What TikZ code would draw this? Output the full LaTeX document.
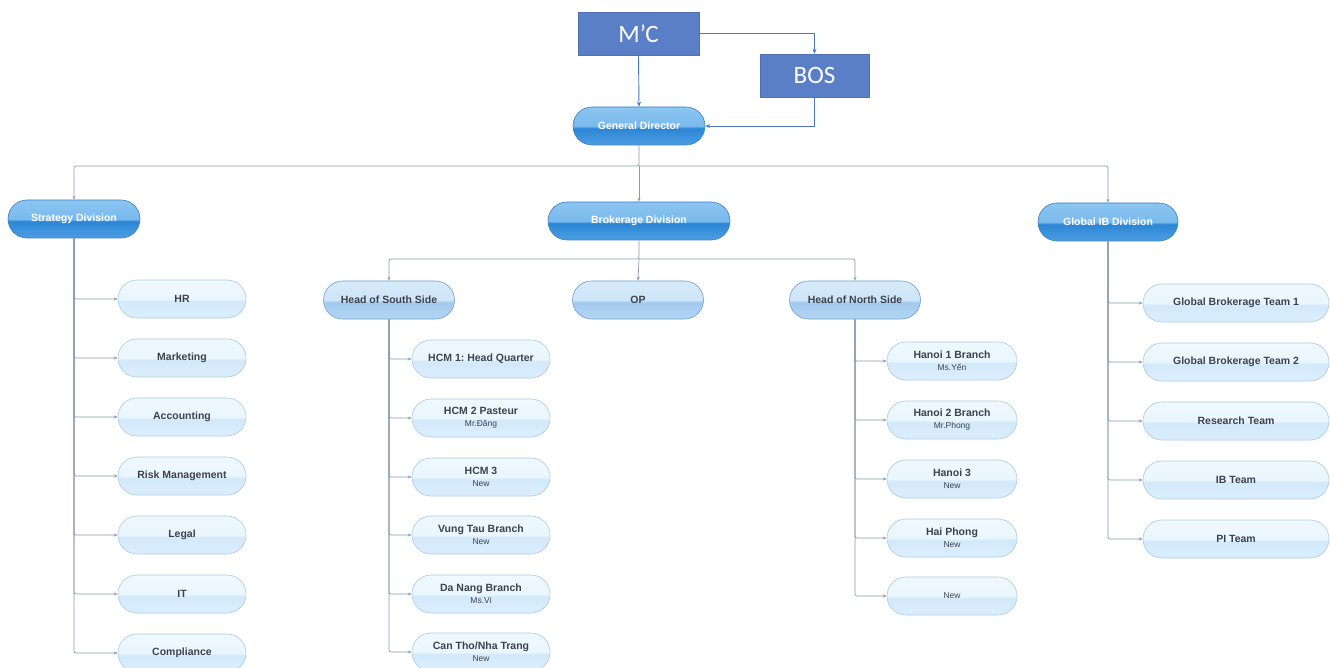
\documentclass[tikz,border=0pt]{standalone}
\usepackage{fontspec}
\setmainfont{Liberation Sans}
\newfontfamily\boardfont{Carlito}
\usetikzlibrary{shapes.misc}
\usetikzlibrary{arrows.meta}
\frenchspacing
\definecolor{boardblue}{HTML}{5A7FC6}
\definecolor{ctrlblue}{HTML}{4D74BF}
\definecolor{linkgray}{HTML}{8A99AE}
\definecolor{divtop}{HTML}{8CC6F2}
\definecolor{divmid}{HTML}{2C86D5}
\definecolor{divbot}{HTML}{4C9EE2}
\definecolor{divline}{HTML}{3E7EC2}
\definecolor{headtop}{HTML}{D6EAF9}
\definecolor{headmid}{HTML}{A2CAEF}
\definecolor{headbot}{HTML}{B4D5F3}
\definecolor{headline}{HTML}{6E9FD2}
\definecolor{leaftop}{HTML}{EEF8FE}
\definecolor{leafmid}{HTML}{D2E9FB}
\definecolor{leafbot}{HTML}{DCEEFC}
\definecolor{leafline}{HTML}{A9CCE8}
\definecolor{labelgray}{HTML}{3C424C}
% glossy fills, light upper half and darker lower half
\pgfdeclareverticalshading{divgloss}{100bp}{color(0bp)=(divbot); color(25bp)=(divbot); color(47bp)=(divmid); color(50bp)=(divtop!80!divmid); color(75bp)=(divtop); color(100bp)=(divtop)}
\pgfdeclareverticalshading{headgloss}{100bp}{color(0bp)=(headbot); color(25bp)=(headbot); color(47bp)=(headmid); color(50bp)=(headtop!85!headmid); color(75bp)=(headtop); color(100bp)=(headtop)}
\pgfdeclareverticalshading{leafgloss}{100bp}{color(0bp)=(leafbot); color(25bp)=(leafbot); color(47bp)=(leafmid); color(50bp)=(leaftop!85!leafmid); color(75bp)=(leaftop); color(100bp)=(leaftop)}
\newcommand{\subfont}{\mdseries\fontsize{8.5}{9}\selectfont}
\tikzstyle{board}=[draw=boardblue!90!black, fill=boardblue, text=white, minimum height=43, font=\boardfont\fontsize{25}{28}\selectfont]
\tikzstyle{unit}=[rounded rectangle, inner xsep=4pt, inner ysep=0pt, minimum height=38, align=center, line width=0.6pt]
\tikzstyle{division}=[unit, draw=divline, shading=divgloss, text=white, font=\bfseries\fontsize{10.5}{12}\selectfont]
\tikzstyle{head}=[unit, draw=headline, shading=headgloss, text=labelgray, font=\bfseries\fontsize{10.5}{12}\selectfont]
\tikzstyle{leaf}=[unit, draw=leafline, shading=leafgloss, text=labelgray, font=\bfseries\fontsize{10.5}{11}\selectfont]
\tikzstyle{link}=[draw=linkgray, line width=0.7pt, rounded corners=2pt, -{Stealth[length=4pt, width=3pt]}]
\tikzstyle{ctrl}=[draw=ctrlblue, line width=0.9pt, -{Stealth[length=5pt, width=4pt]}]
\begin{document}
\begin{tikzpicture}[x=1pt, y=-1pt]
    \useasboundingbox[fill=white] (0,0) rectangle (1330,668);
    % board level
    \node[board, minimum width=121] (MC) at (638.5,33.5) {M’C};
    \node[board, minimum width=109] (BOS) at (814.5,75.5) {BOS};
    \node[division, minimum width=140] (GD) at (639,126) {General Director};
    \draw[ctrl] (MC.south) -- (GD.north);
    \draw[ctrl] (MC.east) -| (BOS.north);
    \draw[ctrl] (BOS.south) |- (GD.east);
    % divisions
    \node[division, minimum width=140] (SD) at (74,219) {Strategy Division};
    \node[division, minimum width=190] (BD) at (639,221) {Brokerage Division};
    \node[division, minimum width=148] (GI) at (1108,222) {Global IB Division};
    \coordinate (split) at (639,166);
    \draw[link] (GD.south) -- (split) -| (SD.north);
    \draw[link] (split) -- (BD.north);
    \draw[link] (split) -| (GI.north);
    % strategy division
    \node[leaf, minimum width=136] (HR) at (182,299) {HR};
    \node[leaf, minimum width=136] (MK) at (182,358) {Marketing};
    \node[leaf, minimum width=136] (AC) at (182,417) {Accounting};
    \node[leaf, minimum width=136] (RM) at (182,476) {Risk Management};
    \node[leaf, minimum width=136] (LG) at (182,535) {Legal};
    \node[leaf, minimum width=136] (IT) at (182,594) {IT};
    \node[leaf, minimum width=136] (CP) at (182,653) {Compliance};
    \foreach \n in {HR,MK,AC,RM,LG,IT,CP}
        \draw[link] (SD.south) |- (\n.west);
    % brokerage division
    \node[head, minimum width=139] (HS) at (389,300) {Head of South Side};
    \node[head, minimum width=139] (OP) at (638,300) {OP};
    \node[head, minimum width=139] (HN) at (855,300) {Head of North Side};
    \coordinate (bsplit) at (639,259);
    \draw[link] (BD.south) -- (bsplit) -| (HS.north);
    \draw[link] (bsplit) -- (OP.north);
    \draw[link] (bsplit) -| (HN.north);
    % south side
    \node[leaf, minimum width=146] (S1) at (481,359) {HCM 1: Head Quarter};
    \node[leaf, minimum width=146] (S2) at (481,418) {HCM 2 Pasteur\\[1pt]{\subfont Mr.Đăng}};
    \node[leaf, minimum width=146] (S3) at (481,477) {HCM 3\\[1pt]{\subfont New}};
    \node[leaf, minimum width=146] (S4) at (481,535) {Vung Tau Branch\\[1pt]{\subfont New}};
    \node[leaf, minimum width=146] (S5) at (481,594) {Da Nang Branch\\[1pt]{\subfont Ms.Vi}};
    \node[leaf, minimum width=146] (S6) at (481,652) {Can Tho/Nha Trang\\[1pt]{\subfont New}};
    \foreach \n in {S1,S2,S3,S4,S5,S6}
        \draw[link] (HS.south) |- (\n.west);
    % north side
    \node[leaf, minimum width=138] (N1) at (952,361) {Hanoi 1 Branch\\[1pt]{\subfont Ms.Yến}};
    \node[leaf, minimum width=138] (N2) at (952,420) {Hanoi 2 Branch\\[1pt]{\subfont Mr.Phong}};
    \node[leaf, minimum width=138] (N3) at (952,479) {Hanoi 3\\[1pt]{\subfont New}};
    \node[leaf, minimum width=138] (N4) at (952,538) {Hai Phong\\[1pt]{\subfont New}};
    \node[leaf, minimum width=138] (N5) at (952,596) {{\subfont New}};
    \foreach \n in {N1,N2,N3,N4,N5}
        \draw[link] (HN.south) |- (\n.west);
    % global IB division
    \node[leaf, minimum width=194] (G1) at (1236,303) {Global Brokerage Team 1};
    \node[leaf, minimum width=194] (G2) at (1236,362) {Global Brokerage Team 2};
    \node[leaf, minimum width=194] (G3) at (1236,421) {Research Team};
    \node[leaf, minimum width=194] (G4) at (1236,480) {IB Team};
    \node[leaf, minimum width=194] (G5) at (1236,539) {PI Team};
    \foreach \n in {G1,G2,G3,G4,G5}
        \draw[link] (GI.south) |- (\n.west);
\end{tikzpicture}
\end{document}
